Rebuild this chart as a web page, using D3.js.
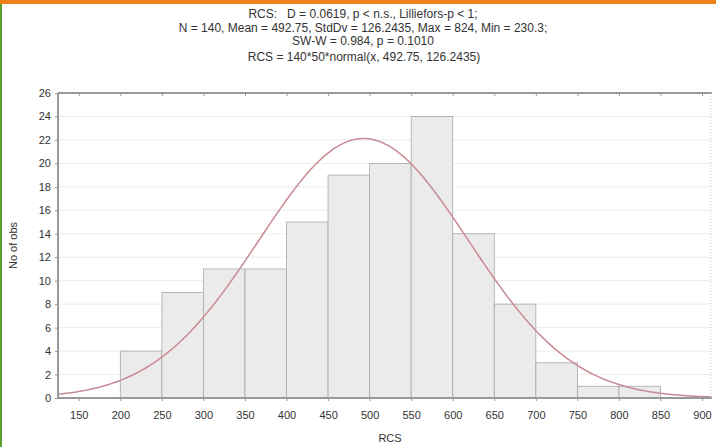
<!DOCTYPE html>
<html><head><meta charset="utf-8">
<script src="https://cdn.jsdelivr.net/npm/d3@7"></script>
<style>body{margin:0;background:#fff;}svg{display:block;font-family:"Liberation Sans",Arial,sans-serif;}</style>
</head><body>
<svg id="c" width="716" height="447"></svg>
<script>
const binStarts = [200,250,300,350,400,450,500,550,600,650,700,750,800,850];
const binWidth = 50;
const counts = [4,9,11,11,15,19,20,24,14,8,3,1,1,0];
const xTicks = [150,200,250,300,350,400,450,500,550,600,650,700,750,800,850,900];
const yTicks = [0,2,4,6,8,10,12,14,16,18,20,22,24,26];
const titleLines = ["RCS:   D = 0.0619, p < n.s., Lilliefors-p < 1;",
  "N = 140, Mean = 492.75, StdDv = 126.2435, Max = 824, Min = 230.3;",
  "SW-W = 0.984, p = 0.1010"];
const fitLabel = "RCS = 140*50*normal(x, 492.75, 126.2435)";
const N = 140, mean = 492.75, sd = 126.2435;

const svg = d3.select("#c");
const L = 58, R = 712, T = 93, B = 398;
const x = d3.scaleLinear().domain([125, 912]).range([L, R]);
const y = d3.scaleLinear().domain([0, 26]).range([B, T]);

svg.append("rect").attr("x",0).attr("y",0).attr("width",716).attr("height",4).attr("fill","#f0801a");
svg.append("rect").attr("x",0).attr("y",4).attr("width",2).attr("height",443).attr("fill","#5aa02c");

svg.append("g").selectAll("line").data(yTicks.filter(d=>d>0)).join("line")
  .attr("x1",L).attr("x2",R).attr("y1",d=>y(d)).attr("y2",d=>y(d))
  .attr("stroke","#ececec").attr("stroke-width",1);

svg.append("g").selectAll("rect").data(binStarts.map((s,i)=>({s,c:counts[i]})).filter(d=>d.c>0)).join("rect")
  .attr("x",d=>x(d.s)).attr("width",d=>x(d.s+binWidth)-x(d.s))
  .attr("y",d=>y(d.c)).attr("height",d=>y(0)-y(d.c))
  .attr("fill","#ebebeb").attr("stroke","#a9a9a9").attr("stroke-width",0.8);

const pdf = v => N*binWidth*Math.exp(-0.5*((v-mean)/sd)**2)/(sd*Math.sqrt(2*Math.PI));
const pts = d3.range(125, 912.01, 2).map(v=>[v, pdf(v)]);
svg.append("path").datum(pts)
  .attr("d", d3.line().x(d=>x(d[0])).y(d=>y(d[1])).curve(d3.curveBasis))
  .attr("fill","none").attr("stroke","#c98a93").attr("stroke-width",1.5);

const xAxis = svg.append("g").attr("transform",`translate(0,${B})`)
  .call(d3.axisBottom(x).tickValues(xTicks).tickSize(3).tickPadding(10));
const yAxis = svg.append("g").attr("transform",`translate(${L},0)`)
  .call(d3.axisLeft(y).tickValues(yTicks).tickSize(3).tickPadding(4));
const topAxis = svg.append("g").attr("transform",`translate(0,${T})`)
  .call(d3.axisBottom(x).tickValues(xTicks).tickSize(3).tickFormat(""));
[xAxis,yAxis,topAxis].forEach(g=>{
  g.selectAll(".domain").attr("stroke","#999").attr("stroke-width",2);
  g.selectAll(".tick line").attr("stroke","#999");
  g.selectAll("text").attr("font-family","Liberation Sans, Arial, sans-serif").attr("font-size",11).attr("fill","#333");
});
topAxis.select(".domain").attr("d",`M${L},0H${R}`);
xAxis.select(".domain").attr("d",`M${L},0H${R}`);
yAxis.select(".domain").attr("d",`M0,${B}V${T}`);
svg.append("line").attr("x1",R-1).attr("x2",R-1).attr("y1",T).attr("y2",B)
  .attr("stroke","#ccc").attr("stroke-dasharray","1,2");

const tg = svg.append("g").attr("text-anchor","middle").attr("font-size",12).attr("fill","#333");
titleLines.forEach((t,i)=>tg.append("text").attr("x",363).attr("y",18+i*13.5)
  .style("white-space","pre").attr("xml:space","preserve").text(t));
tg.append("text").attr("x",364).attr("y",61).text(fitLabel);

svg.append("text").attr("x",390).attr("y",442).attr("text-anchor","middle")
  .attr("font-size",11).attr("fill","#333").text("RCS");
svg.append("text").attr("transform",`translate(17,${(T+B)/2}) rotate(-90)`).attr("text-anchor","middle")
  .attr("font-size",11).attr("fill","#333").text("No of obs");
</script>
</body></html>
